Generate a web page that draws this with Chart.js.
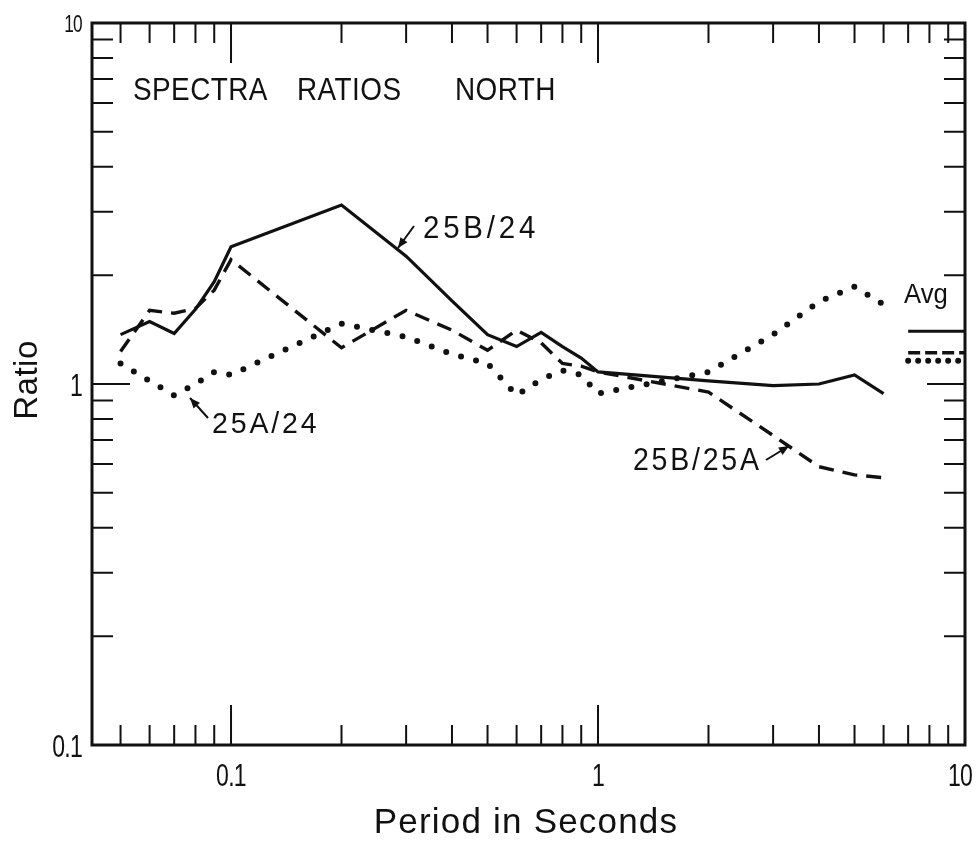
<!DOCTYPE html>
<html>
<head>
<meta charset="utf-8">
<script src="https://cdn.jsdelivr.net/npm/chart.js@4.4.0/dist/chart.umd.min.js"></script>
<style>
  html, body { margin: 0; padding: 0; background: #fff; }
  canvas { display: block; }
</style>
</head>
<body>
<canvas id="ratioChart" width="977" height="843"></canvas>
<script>
// periods (s)
const periods = [0.05, 0.06, 0.07, 0.08, 0.09, 0.1, 0.2, 0.3, 0.4, 0.5, 0.6, 0.7, 0.8, 0.9, 1, 2, 3, 4, 5, 6];

const ratio25B_24  = [1.37, 1.49, 1.38, 1.61, 1.92, 2.40, 3.13, 2.26, 1.70, 1.37, 1.27, 1.39, 1.27, 1.18, 1.08, 1.02, 0.99, 1.00, 1.06, 0.94];
const ratio25B_25A = [1.23, 1.60, 1.57, 1.62, 1.82, 2.21, 1.26, 1.60, 1.41, 1.24, 1.41, 1.30, 1.14, 1.12, 1.08, 0.95, 0.72, 0.59, 0.56, 0.55];
const ratio25A_24  = [1.14, 1.02, 0.93, 1.00, 1.08, 1.06, 1.47, 1.35, 1.21, 1.14, 0.93, 1.03, 1.09, 1.06, 0.94, 1.08, 1.37, 1.69, 1.86, 1.66];

// averages shown as short bars at the right edge
const avgPeriods = [7, 10];
const avgRatios = [1.40, 1.22, 1.16]; // 25B/24, 25B/25A, 25A/24

const xTicks = [0.1, 1, 10];
const yTicks = [0.1, 1, 10];
const tickLabels = ['0.1', '1', '10'];

const INK = '#111';
const FONT = '"Liberation Sans", Arial, sans-serif';

const pts = vals => vals.map((v, i) => ({ x: periods[i], y: v }));
const avgPts = v => avgPeriods.map(p => ({ x: p, y: v }));

const solid = { borderColor: INK, borderWidth: 3.2 };
const dashed = { borderColor: INK, borderWidth: 3.4, borderDash: [15, 9] };
const dotted = { borderColor: INK, borderWidth: 6, borderDash: [0, 15.5], borderCapStyle: 'round' };

// frame + inward ticks on all four sides, plus the hand lettering
const framePlugin = {
  id: 'frame',
  afterDatasetsDraw(chart) {
    const { ctx, chartArea: a, scales: { x, y } } = chart;
    ctx.save();
    ctx.strokeStyle = INK;
    ctx.lineWidth = 2;
    ctx.beginPath();
    [0.01, 0.1, 1].forEach(d => {
      for (let m = 1; m <= 9; m++) {
        const v = m * d;
        if (v <= x.min || v >= x.max) continue;
        const px = x.getPixelForValue(v);
        const len = m === 1 ? 40 : 20;
        ctx.moveTo(px, a.bottom); ctx.lineTo(px, a.bottom - len);
        ctx.moveTo(px, a.top); ctx.lineTo(px, a.top + len);
      }
      for (let m = 1; m <= 9; m++) {
        const v = m * d;
        if (v <= y.min || v >= y.max) continue;
        const py = y.getPixelForValue(v);
        const len = m === 1 ? 38 : 21;
        ctx.moveTo(a.left, py); ctx.lineTo(a.left + len, py);
        ctx.moveTo(a.right, py); ctx.lineTo(a.right - len, py);
      }
    });
    ctx.stroke();
    ctx.lineWidth = 3;
    ctx.strokeRect(a.left, a.top, a.right - a.left, a.bottom - a.top);

    ctx.fillStyle = INK;
    ctx.textBaseline = 'alphabetic';
    const text = (s, px, py, size, sx = 1, spacing = 0, align = 'left', rot = 0) => {
      ctx.save();
      ctx.font = size + 'px ' + FONT;
      ctx.letterSpacing = spacing + 'px';
      ctx.textAlign = align;
      ctx.translate(px, py);
      ctx.rotate(rot);
      ctx.scale(sx, 1);
      ctx.fillText(s, 0, 0);
      ctx.restore();
    };

    // tick labels, placed through the scales
    xTicks.forEach((v, i) => {
      const px = Math.min(x.getPixelForValue(v), chart.width - 17);
      text(tickLabels[i], px, a.bottom + 41, 32, 0.72, -1, 'center');
    });
    yTicks.forEach((v, i) => {
      const py = y.getPixelForValue(v);
      const big = v !== y.max;
      text(tickLabels[i], a.left - 10, py + (big ? 12 : 9), big ? 32 : 24, 0.72, -1, 'right');
    });

    // axis titles
    text('Period in Seconds', 526, 833, 35, 1, 1.2, 'center');
    text('Ratio', 37, (a.top + a.bottom) / 2 - 4, 33, 1, 0.5, 'center', -Math.PI / 2);

    // annotations
    text('SPECTRA', 133, 100, 31, 0.9, 0.5);
    text('RATIOS', 297, 100, 31, 0.9, 0.5);
    text('NORTH', 455, 100, 31, 0.9, 0.5);
    text('25B/24', 423, 238, 31, 0.95, 4);
    text('25A/24', 212, 433, 30, 0.95, 3);
    text('25B/25A', 633, 470, 31, 0.92, 3);
    text('Avg', 904, 303, 27, 0.95, 0);

    const arrow = (x1, y1, x2, y2) => {
      ctx.lineWidth = 2;
      ctx.beginPath();
      ctx.moveTo(x1, y1); ctx.lineTo(x2, y2);
      ctx.stroke();
      const ang = Math.atan2(y2 - y1, x2 - x1);
      ctx.beginPath();
      ctx.moveTo(x2, y2);
      ctx.lineTo(x2 - 11 * Math.cos(ang - 0.4), y2 - 11 * Math.sin(ang - 0.4));
      ctx.lineTo(x2 - 11 * Math.cos(ang + 0.4), y2 - 11 * Math.sin(ang + 0.4));
      ctx.closePath();
      ctx.fill();
    };
    arrow(414, 226, 398, 248);
    arrow(208, 418, 190, 398);
    arrow(766, 460, 789, 446);
    ctx.restore();
  }
};

const fixBox = (w, h) => s => {
  if (w !== null) s.width = w;
  if (h !== null) s.height = h;
  s.paddingLeft = s.paddingRight = s.paddingTop = s.paddingBottom = 0;
};

new Chart(document.getElementById('ratioChart').getContext('2d'), {
  type: 'line',
  data: {
    datasets: [
      { label: '25B/24', data: pts(ratio25B_24), ...solid },
      { label: '25B/25A', data: pts(ratio25B_25A), ...dashed },
      { label: '25A/24', data: pts(ratio25A_24), ...dotted },
      { label: 'Avg 25B/24', data: avgPts(avgRatios[0]), ...solid },
      { label: 'Avg 25B/25A', data: avgPts(avgRatios[1]), ...dashed, borderDash: [12, 5] },
      { label: 'Avg 25A/24', data: avgPts(avgRatios[2]), ...dotted, borderDash: [0, 10] }
    ]
  },
  options: {
    responsive: false,
    animation: false,
    layout: { padding: { top: 23, right: 12, left: 0, bottom: 0 } },
    elements: { point: { radius: 0 }, line: { tension: 0, fill: false } },
    plugins: { legend: { display: false }, tooltip: { enabled: false } },
    scales: {
      x: {
        type: 'logarithmic',
        min: 0.0418,
        max: 10,
        afterBuildTicks: s => { s.ticks = xTicks.map(v => ({ value: v })); },
        afterFit: fixBox(null, 98),
        grid: { display: false, drawTicks: false },
        border: { display: false },
        ticks: { display: false },
        title: { display: false, text: 'Period in Seconds' }
      },
      y: {
        type: 'logarithmic',
        min: 0.1,
        max: 10,
        afterBuildTicks: s => { s.ticks = yTicks.map(v => ({ value: v })); },
        afterFit: fixBox(92, null),
        grid: { display: false, drawTicks: false },
        border: { display: false },
        ticks: { display: false },
        title: { display: false, text: 'Ratio' }
      }
    }
  },
  plugins: [framePlugin]
});
</script>
</body>
</html>
